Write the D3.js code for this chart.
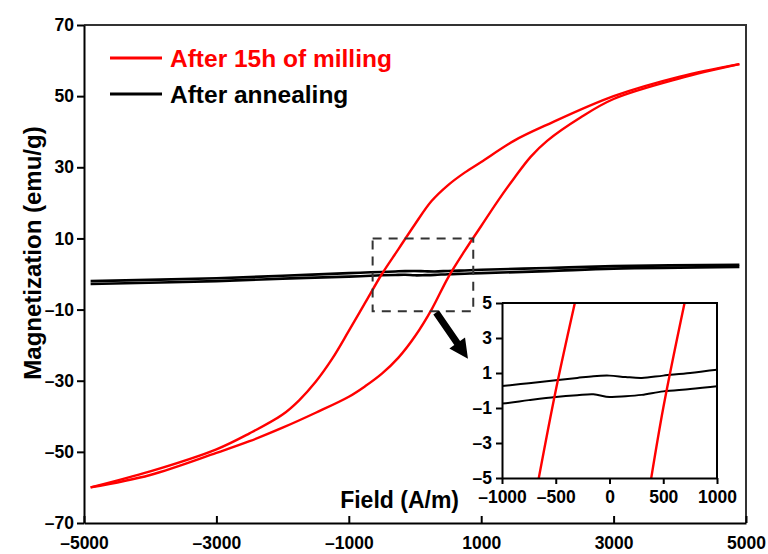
<!DOCTYPE html>
<html>
<head>
<meta charset="utf-8">
<script src="https://cdn.jsdelivr.net/npm/d3@7"></script>
<style>
  body { margin: 0; background: #fff; }
  svg text { font-family: "Liberation Sans", Arial, sans-serif; font-weight: bold; }
</style>
</head>
<body>
<div id="chart"></div>
<script>
// main axis ticks
const xTicks = [-5000, -3000, -1000, 1000, 3000, 5000];
const yTicks = [70, 50, 30, 10, -10, -30, -50, -70];
const insetXTicks = [-1000, -500, 0, 500, 1000];
const insetYTicks = [5, 3, 1, -1, -3, -5];

// after 15h of milling (red loop): descending branch
const downField = [-4900, -4000, -3000, -2500, -2000, -1750, -1500, -1250, -1000, -750, -500, -250, 0, 250, 500, 750, 1000, 1500, 2000, 3000, 4000, 4900];
const downMag = [-60, -55.5, -49.3, -44.8, -39.5, -35.5, -30.3, -23.8, -16, -8, 0, 7, 14, 20.5, 25, 28.5, 31.5, 37.5, 42, 50, 55.5, 59];
// ascending branch
const upField = [-4900, -4000, -3000, -2500, -2000, -1500, -1000, -750, -500, -250, 0, 250, 500, 750, 1000, 1250, 1500, 1750, 2000, 2500, 3000, 4000, 4900];
const upMag = [-60, -56.5, -50.3, -47, -43.2, -39, -34.5, -31.5, -28, -23.5, -17.5, -10, -1, 6.5, 13.5, 20.5, 27, 33, 37.5, 44, 49.2, 55, 59];

// after annealing (black, narrow loop)
const annField = [-4900, -3000, -2000, -1000, -750, -500, -300, -150, 0, 150, 300, 500, 750, 1000, 2000, 3000, 4900];
const annDown = [-2.0, -1.2, -0.5, 0.25, 0.42, 0.58, 0.72, 0.82, 0.85, 0.77, 0.72, 0.85, 1.0, 1.19, 1.7, 2.2, 2.6];
const annUp = [-2.8, -2.0, -1.3, -0.75, -0.55, -0.37, -0.27, -0.22, -0.37, -0.33, -0.25, -0.05, 0.08, 0.24, 0.8, 1.5, 2.0];

// zoom box and arrow, in data units
const zoomBoxField = [-640, 880];
const zoomBoxMag = [-10.5, 10];
const arrowFrom = [320, -10.8];
const arrowTo = [800, -23.8];

const legendNames = ["After 15h of milling", "After annealing"];
const legendColors = ["#ff0000", "#000000"];

const fmt = d => (d < 0 ? "\u2013" + Math.abs(d) : String(d));

function drawChart(container) {
    const width = 768, height = 554,
          margin = {top: 25, right: 22, bottom: 31, left: 84},
          innerWidth = width - margin.left - margin.right,
          innerHeight = height - margin.top - margin.bottom;

    const svg = d3.select(container).append("svg")
        .attr("width", width)
        .attr("height", height);

    const viz = svg.append("g")
        .attr("transform", `translate(${margin.left},${margin.top})`);

    const x = d3.scaleLinear().domain([-5000, 5000]).range([0, innerWidth]);
    const y = d3.scaleLinear().domain([-70, 70]).range([innerHeight, 0]);

    // frame (top and right)
    viz.append("path")
        .attr("d", `M0,0H${innerWidth}V${innerHeight}`)
        .attr("fill", "none")
        .attr("stroke", "#333")
        .attr("stroke-width", 2);

    const yAxis = viz.append("g")
        .call(d3.axisLeft(y).tickValues(yTicks).tickSize(7).tickSizeOuter(0).tickPadding(3).tickFormat(fmt));
    const xAxis = viz.append("g")
        .attr("transform", `translate(0,${innerHeight})`)
        .call(d3.axisBottom(x).tickValues(xTicks).tickSize(-7).tickSizeOuter(0).tickPadding(14).tickFormat(fmt));
    [xAxis, yAxis].forEach(a => {
        a.select(".domain").attr("stroke", "#000").attr("stroke-width", 2);
        a.selectAll(".tick line").attr("stroke", "#000").attr("stroke-width", 2);
        a.selectAll("text").attr("font-size", 17.5).attr("fill", "#000")
            .attr("font-family", "'Liberation Sans', Arial, sans-serif");
    });

    svg.append("text")
        .attr("transform", `translate(41,253) rotate(-90)`)
        .attr("text-anchor", "middle")
        .attr("font-size", 24)
        .text("Magnetization (emu/g)");

    const line = (xs, ys, sx, sy) => d3.line()
        .x(i => sx(xs[i])).y(i => sy(ys[i]))
        .curve(d3.curveCatmullRom.alpha(0.5))(d3.range(xs.length));

    // annealing lines
    [annDown, annUp].forEach(vals => {
        viz.append("path")
            .attr("d", line(annField, vals, x, y))
            .attr("fill", "none").attr("stroke", "#000").attr("stroke-width", 2.6);
    });
    // milling loop
    [[downField, downMag], [upField, upMag]].forEach(([fs, ms]) => {
        viz.append("path")
            .attr("d", line(fs, ms, x, y))
            .attr("fill", "none").attr("stroke", "#ff0000").attr("stroke-width", 2.4);
    });

    // dashed zoom box
    viz.append("rect")
        .attr("x", x(zoomBoxField[0]))
        .attr("y", y(zoomBoxMag[1]))
        .attr("width", x(zoomBoxField[1]) - x(zoomBoxField[0]))
        .attr("height", y(zoomBoxMag[0]) - y(zoomBoxMag[1]))
        .attr("fill", "none")
        .attr("stroke", "#333")
        .attr("stroke-width", 2)
        .attr("stroke-dasharray", "9,7");

    // arrow
    const ax0 = x(arrowFrom[0]), ay0 = y(arrowFrom[1]);
    const ax1 = x(arrowTo[0]), ay1 = y(arrowTo[1]);
    const ang = Math.atan2(ay1 - ay0, ax1 - ax0);
    const len = Math.hypot(ax1 - ax0, ay1 - ay0);
    viz.append("path")
        .attr("transform", `translate(${ax0},${ay0}) rotate(${ang * 180 / Math.PI})`)
        .attr("d", `M0,-3.5H${len - 19}V-9.5L${len},0L${len - 19},9.5V3.5H0Z`)
        .attr("fill", "#000");

    // legend
    const legend = viz.append("g").attr("transform", "translate(26,33)");
    legendNames.forEach((name, i) => {
        const g = legend.append("g").attr("transform", `translate(0,${i * 36})`);
        g.append("line").attr("x1", 0).attr("x2", 52)
            .attr("stroke", legendColors[i]).attr("stroke-width", 3);
        g.append("text").attr("x", 60).attr("dy", "0.35em")
            .attr("font-size", 24.5)
            .attr("fill", legendColors[i])
            .text(name);
    });

    // inset
    const inset = {left: 502, top: 303, width: 215, height: 175};
    const ig = svg.append("g").attr("transform", `translate(${inset.left},${inset.top})`);
    const ix = d3.scaleLinear().domain([-1000, 1000]).range([0, inset.width]);
    const iy = d3.scaleLinear().domain([-5, 5]).range([inset.height, 0]);

    ig.append("rect").attr("width", inset.width).attr("height", inset.height).attr("fill", "#fff");
    svg.append("clipPath").attr("id", "insetClip")
        .append("rect").attr("width", inset.width).attr("height", inset.height);

    const plot = ig.append("g").attr("clip-path", "url(#insetClip)");
    [annDown, annUp].forEach(vals => {
        plot.append("path")
            .attr("d", line(annField, vals, ix, iy))
            .attr("fill", "none").attr("stroke", "#000").attr("stroke-width", 2);
    });
    [[downField, downMag], [upField, upMag]].forEach(([fs, ms]) => {
        plot.append("path")
            .attr("d", line(fs, ms, ix, iy))
            .attr("fill", "none").attr("stroke", "#ff0000").attr("stroke-width", 2.4);
    });

    ig.append("path")
        .attr("d", `M0,0H${inset.width}V${inset.height}`)
        .attr("fill", "none").attr("stroke", "#000").attr("stroke-width", 2);

    const iyAxis = ig.append("g")
        .call(d3.axisLeft(iy).tickValues(insetYTicks).tickSize(6).tickSizeOuter(0).tickPadding(4).tickFormat(fmt));
    const ixAxis = ig.append("g")
        .attr("transform", `translate(0,${inset.height})`)
        .call(d3.axisBottom(ix).tickValues(insetXTicks).tickSize(6).tickSizeOuter(0).tickPadding(7).tickFormat(fmt));
    [ixAxis, iyAxis].forEach(a => {
        a.select(".domain").attr("stroke", "#000").attr("stroke-width", 2);
        a.selectAll(".tick line").attr("stroke", "#000").attr("stroke-width", 2);
        a.selectAll("text").attr("font-size", 17.5).attr("fill", "#000")
            .attr("font-family", "'Liberation Sans', Arial, sans-serif");
    });

    ig.append("text")
        .attr("x", -43).attr("y", inset.height + 30)
        .attr("text-anchor", "end")
        .attr("font-size", 23)
        .text("Field (A/m)");
}

drawChart("#chart");
</script>
</body>
</html>
